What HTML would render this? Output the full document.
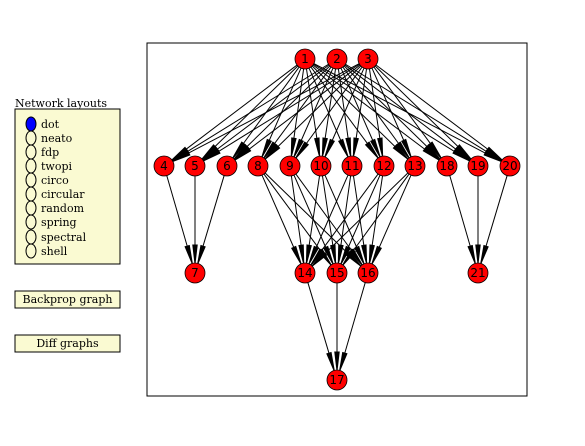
<!DOCTYPE html>
<html><head><style>
body{margin:0;background:#fff;width:585px;height:441px;overflow:hidden}
svg text{font-family:"DejaVu Serif","Liberation Serif",serif;font-size:11px}
.n text{font-family:"DejaVu Sans","Liberation Sans",sans-serif;font-size:12px;text-anchor:middle;dominant-baseline:central}
</style></head><body>
<svg id="s" width="585" height="441" xmlns="http://www.w3.org/2000/svg">
<rect x="147" y="43" width="380" height="353" fill="#fff" stroke="#000" stroke-width="1"/>
<g id="e"></g>
<g class="n" fill="red" stroke="#000" stroke-width="0.8">
<circle cx="305" cy="59" r="10"/><circle cx="337" cy="59" r="10"/><circle cx="368" cy="59" r="10"/>
<circle cx="164" cy="166" r="10"/><circle cx="195" cy="166" r="10"/><circle cx="227" cy="166" r="10"/><circle cx="258" cy="166" r="10"/><circle cx="290" cy="166" r="10"/><circle cx="321" cy="166" r="10"/><circle cx="352" cy="166" r="10"/><circle cx="384" cy="166" r="10"/><circle cx="415" cy="166" r="10"/><circle cx="447" cy="166" r="10"/><circle cx="478" cy="166" r="10"/><circle cx="510" cy="166" r="10"/>
<circle cx="195" cy="273" r="10"/><circle cx="305" cy="273" r="10"/><circle cx="337" cy="273" r="10"/><circle cx="368" cy="273" r="10"/><circle cx="478" cy="273" r="10"/>
<circle cx="337" cy="380" r="10"/>
</g>
<g class="n" fill="#000">
<text x="305" y="59">1</text><text x="337" y="59">2</text><text x="368" y="59">3</text>
<text x="164" y="166">4</text><text x="195" y="166">5</text><text x="227" y="166">6</text><text x="258" y="166">8</text><text x="290" y="166">9</text><text x="321" y="166">10</text><text x="352" y="166">11</text><text x="384" y="166">12</text><text x="415" y="166">13</text><text x="447" y="166">18</text><text x="478" y="166">19</text><text x="510" y="166">20</text>
<text x="195" y="273">7</text><text x="305" y="273">14</text><text x="337" y="273">15</text><text x="368" y="273">16</text><text x="478" y="273">21</text>
<text x="337" y="380">17</text>
</g>
<text x="15" y="107">Network layouts</text>
<rect x="15" y="109" width="105" height="155" fill="#fafad2" stroke="#000" stroke-width="1"/>
<ellipse cx="31" cy="124" rx="5" ry="7" fill="blue" stroke="#000"/>
<g fill="none" stroke="#000">
<ellipse cx="31" cy="138" rx="5" ry="7"/><ellipse cx="31" cy="152" rx="5" ry="7"/><ellipse cx="31" cy="166" rx="5" ry="7"/><ellipse cx="31" cy="180" rx="5" ry="7"/><ellipse cx="31" cy="194" rx="5" ry="7"/><ellipse cx="31" cy="208" rx="5" ry="7"/><ellipse cx="31" cy="222" rx="5" ry="7"/><ellipse cx="31" cy="237" rx="5" ry="7"/><ellipse cx="31" cy="251" rx="5" ry="7"/>
</g>
<g fill="#000">
<text x="41" y="128">dot</text><text x="41" y="142">neato</text><text x="41" y="156">fdp</text><text x="41" y="170">twopi</text><text x="41" y="184">circo</text><text x="41" y="198">circular</text><text x="41" y="212">random</text><text x="41" y="226">spring</text><text x="41" y="241">spectral</text><text x="41" y="255">shell</text>
</g>
<rect x="15" y="291" width="105" height="17" fill="#fafad2" stroke="#000"/>
<text x="67.5" y="303" text-anchor="middle">Backprop graph</text>
<rect x="15" y="335" width="105" height="17" fill="#fafad2" stroke="#000"/>
<text x="67.5" y="347" text-anchor="middle">Diff graphs</text>
</svg>
<script>
var P={1:[305,59],2:[337,59],3:[368,59],4:[164,166],5:[195,166],6:[227,166],8:[258,166],9:[290,166],10:[321,166],11:[352,166],12:[384,166],13:[415,166],18:[447,166],19:[478,166],20:[510,166],7:[195,273],14:[305,273],15:[337,273],16:[368,273],21:[478,273],17:[337,380]};
var E=[];[1,2,3].forEach(a=>[4,5,6,8,9,10,11,12,13,18,19,20].forEach(b=>E.push([a,b])));
[4,5,6].forEach(a=>E.push([a,7]));[8,9,10,11,12,13].forEach(a=>[14,15,16].forEach(b=>E.push([a,b])));
[18,19,20].forEach(a=>E.push([a,21]));[14,15,16].forEach(a=>E.push([a,17]));
var g=document.getElementById('e'),h='';
E.forEach(function(e){var A=P[e[0]],B=P[e[1]],dx=B[0]-A[0],dy=B[1]-A[1],L=Math.hypot(dx,dy),ux=dx/L,uy=dy/L;
var sx=A[0]+ux*10,sy=A[1]+uy*10,tx=B[0]-ux*9,ty=B[1]-uy*9,bx=tx-ux*19,by=ty-uy*19,px=-uy*2.2,py=ux*2.2;
h+='<line x1="'+sx+'" y1="'+sy+'" x2="'+bx+'" y2="'+by+'" stroke="#000" stroke-width="1"/>';
h+='<polygon points="'+tx+','+ty+' '+(bx+px)+','+(by+py)+' '+(bx-px)+','+(by-py)+'" fill="#000" stroke="#000" stroke-width="1"/>';});
g.innerHTML=h;
</script>
</body></html>
